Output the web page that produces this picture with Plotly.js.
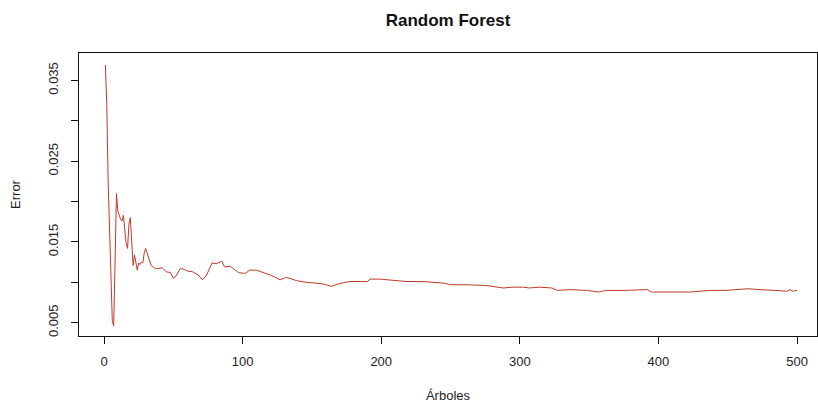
<!DOCTYPE html>
<html>
<head>
<meta charset="utf-8">
<script src="https://cdn.plot.ly/plotly-3.0.1.min.js"></script>
<style>html,body{margin:0;padding:0;background:#fff;}</style>
</head>
<body>
<div id="chart" style="width:818px;height:406px;"></div>
<script>
const arboles = [1,2,3,4,5,6,7,8,9,10,11,12,13,14,15,16,17,18,19,20,21,22,23,24,25,26,27,28,29,30,31,32,34,37,39,42,45,48,50,52,55,58,60,64,68,71,74,78,81,85,87,91,93,97,102,105,110,115,120,125,127,131,134,139,146,153,158,164,169,174,178,190,192,199,209,218,230,245,250,262,276,283,288,295,302,307,314,323,327,336,348,357,362,377,392,395,408,423,437,449,464,477,488,493,495,497,500];
const error = [0.0369,0.0320,0.0224,0.0171,0.0110,0.0052,0.0046,0.0120,0.0210,0.0188,0.0182,0.0178,0.0176,0.0183,0.0165,0.0148,0.0142,0.0172,0.0180,0.0144,0.0121,0.0134,0.0124,0.0115,0.0124,0.0122,0.0125,0.0124,0.0136,0.0142,0.0137,0.0132,0.0121,0.0117,0.0117,0.0118,0.0113,0.0112,0.0105,0.0108,0.0117,0.0116,0.0114,0.0113,0.0109,0.0103,0.0109,0.0124,0.0123,0.0126,0.0119,0.0120,0.0117,0.0112,0.0111,0.0115,0.0115,0.0112,0.0109,0.0105,0.0103,0.0106,0.0105,0.0102,0.0100,0.0099,0.0098,0.0095,0.0098,0.0100,0.0101,0.0101,0.0104,0.0104,0.0102,0.0101,0.0101,0.0099,0.0097,0.0097,0.0096,0.0094,0.0093,0.0094,0.0094,0.0093,0.0094,0.0093,0.0090,0.0091,0.0090,0.0088,0.0090,0.0090,0.0091,0.0088,0.0088,0.0088,0.0090,0.0090,0.0092,0.0091,0.0090,0.0089,0.0091,0.0089,0.0090];
const xTickVals = [0,100,200,300,400,500];
const yTickVals = [0.005,0.010,0.015,0.020,0.025,0.030,0.035];
const yTickText = ['0.005','','0.015','','0.025','','0.035'];
const chartTitle = 'Random Forest';
const xTitle = 'Árboles';
const yTitle = 'Error';

const font = 'Liberation Sans, Arial, sans-serif';
const trace = {
  x: arboles, y: error, type: 'scatter', mode: 'lines',
  line: {color: '#c0392b', width: 1}, hoverinfo: 'skip'
};
const layout = {
  width: 818, height: 406,
  margin: {l: 79, r: 1, t: 53, b: 70},
  paper_bgcolor: '#fff', plot_bgcolor: '#fff',
  showlegend: false,
  font: {family: font, size: 14, color: '#222'},
  title: {text: '<b>' + chartTitle + '</b>', font: {family: font, size: 17, color: '#111'},
          x: 0.5, xref: 'paper', xanchor: 'center', y: 0.95, yref: 'container', yanchor: 'middle'},
  xaxis: {
    range: [-18.04, 514.4], showgrid: false, zeroline: false,
    showline: true, mirror: true, linecolor: '#111', linewidth: 1,
    ticks: 'outside', ticklen: 7, tickcolor: '#111', tickwidth: 1,
    tickvals: xTickVals, ticktext: xTickVals.map(String),
    tickfont: {size: 13, color: '#222'}, ticklabelstandoff: 6,
    title: {text: xTitle, font: {size: 13, color: '#222'}, standoff: 23}
  },
  yaxis: {
    range: [0.003354, 0.03839], showgrid: false, zeroline: false,
    showline: true, mirror: true, linecolor: '#111', linewidth: 1,
    ticks: 'outside', ticklen: 7, tickcolor: '#111', tickwidth: 1,
    tickvals: yTickVals, ticktext: yTickText, tickangle: -90,
    tickfont: {size: 13, color: '#222'}, ticklabelstandoff: 8,
    title: {text: yTitle, font: {size: 13, color: '#222'}, standoff: 22}
  }
};
Plotly.newPlot('chart', [trace], layout, {displayModeBar: false, staticPlot: true});
</script>
</body>
</html>
